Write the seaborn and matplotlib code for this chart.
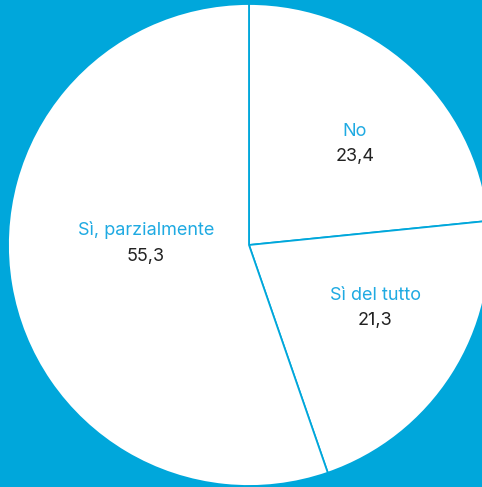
import matplotlib
matplotlib.use("Agg")
import matplotlib.pyplot as plt
import seaborn as sns

# Data
categories = ['No', 'Sì del tutto', 'Sì, parzialmente']
values = [23.4, 21.3, 55.3]
value_labels = ['23,4', '21,3', '55,3']

sns.set_theme(style='white')
plt.rcParams['font.family'] = ['Inter', 'DejaVu Sans']

bg = '#00A7DB'
label_blue = '#1FAAE2'

fig = plt.figure(figsize=(4.82, 4.87), dpi=100, facecolor=bg)
ax = fig.add_axes([0, 0, 1, 1])
ax.set_facecolor(bg)

wedges, _ = ax.pie(values, startangle=90, counterclock=False,
                   center=(249, 242), radius=241,
                   colors=['white'] * len(values),
                   wedgeprops={'edgecolor': bg, 'linewidth': 1.3})

ax.set_xlim(0, 482)
ax.set_ylim(0, 487)
ax.set_aspect('equal')
ax.axis('off')

# label anchor points (pixels from top-left)
label_pos = [(355, 131), (375, 295), (146, 230)]
for (x, y), name, val in zip(label_pos, categories, value_labels):
    ax.text(x, 487 - y, name, ha='center', va='center', fontsize=13, color=label_blue)
    ax.text(x, 487 - y - 26, val, ha='center', va='center', fontsize=13, color='#222222')

fig.savefig('out.png', dpi=100, facecolor=bg)
